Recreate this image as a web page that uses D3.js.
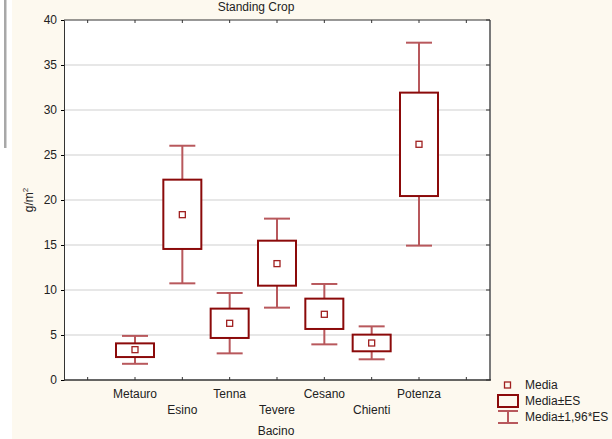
<!DOCTYPE html>
<html>
<head>
<meta charset="utf-8">
<script src="https://cdn.jsdelivr.net/npm/d3@7"></script>
<style>
  body { margin: 0; background: #fff; }
  svg { display: block; font-family: "Liberation Sans", Arial, sans-serif; }
</style>
</head>
<body>
<svg id="chart" width="612" height="439"></svg>
<script>
var categories = ["Metauro", "Esino", "Tenna", "Tevere", "Cesano", "Chienti", "Potenza"]
var means  = [3.37, 18.37, 6.30, 12.93, 7.30, 4.11, 26.19]
var seLow  = [2.55, 14.56, 4.67, 10.48, 5.67, 3.19, 20.44]
var seHigh = [4.07, 22.26, 7.93, 15.48, 9.04, 5.04, 31.93]
var ciLow  = [1.80, 10.74, 2.96, 8.04, 3.96, 2.30, 14.93]
var ciHigh = [4.90, 26.03, 9.67, 17.93, 10.67, 5.96, 37.48]
var yTicks = [0, 5, 10, 15, 20, 25, 30, 35, 40]
var legendLabels = ["Media", "Media±ES", "Media±1,96*ES"]

var margin = { top: 20, left: 64, right: 122, bottom: 59 }
var width = 612 - margin.left - margin.right
var height = 439 - margin.top - margin.bottom

var boxColor = "#8b0a0a", whiskColor = "#b8585c", gridColor = "#cfcfcf"
var fs = "12px"

var svg = d3.select("#chart")

// cream background, white strip on the left with the window edge
svg.append("rect").attr("x", 12).attr("y", 0).attr("width", 600).attr("height", 439).attr("fill", "#fdf9ef")
svg.append("rect").attr("x", 4).attr("y", 0).attr("width", 2.5).attr("height", 148).attr("fill", "#a8a8a8")

var g = svg.append("g").attr("transform", "translate(" + margin.left + "," + margin.top + ")")

g.append("rect").attr("width", width).attr("height", height).attr("fill", "#fff")

var x = d3.scalePoint().domain(categories).range([0, width]).padding(1.5)
var y = d3.scaleLinear().domain([0, 40]).range([height, 0])
var step = x.step()
var slotX = [x(categories[0]) - step].concat(categories.map(c => x(c)), [x(categories[categories.length - 1]) + step])

// grid
g.selectAll(".grid").data(yTicks.slice(1, -1)).join("line")
    .attr("x1", 0).attr("x2", width)
    .attr("y1", d => y(d)).attr("y2", d => y(d))
    .attr("stroke", gridColor).attr("stroke-width", 1)

// frame
g.append("line").attr("x1", width).attr("x2", width).attr("y1", 0).attr("y2", height)
    .attr("stroke", "#7a7a7a").attr("stroke-width", 2)

var yAxis = g.append("g").call(d3.axisLeft(y).tickValues(yTicks).tickSize(3).tickPadding(4))
yAxis.select(".domain").attr("stroke", "#333")
yAxis.selectAll("text").style("font-size", fs).attr("fill", "#222")

g.append("line").attr("x1", 0).attr("x2", width).attr("y1", 0).attr("y2", 0).attr("stroke", "#333")
g.append("line").attr("x1", 0).attr("x2", width + 1).attr("y1", height).attr("y2", height).attr("stroke", "#333").attr("stroke-width", 1.5)

// inner ticks
g.selectAll(".tt").data(slotX).join("line")
    .attr("x1", d => d).attr("x2", d => d).attr("y1", 0).attr("y2", 3).attr("stroke", "#333")
g.selectAll(".bt").data(slotX).join("line")
    .attr("x1", d => d).attr("x2", d => d).attr("y1", height).attr("y2", height - 3).attr("stroke", "#333")
g.selectAll(".rt").data(yTicks).join("line")
    .attr("x1", width).attr("x2", width - 4).attr("y1", d => y(d)).attr("y2", d => y(d)).attr("stroke", "#333")

// x labels, staggered
g.selectAll(".xl").data(categories).join("text")
    .attr("x", d => x(d))
    .attr("y", (d, i) => height + (i % 2 ? 34 : 18))
    .attr("text-anchor", "middle").style("font-size", fs).attr("fill", "#222")
    .text(d => d)

var boxW = 38, capW = 26

var groups = g.selectAll(".box").data(categories).join("g")
    .attr("transform", d => "translate(" + x(d) + ",0)")

groups.append("line")
    .attr("y1", (d, i) => y(ciHigh[i])).attr("y2", (d, i) => y(seHigh[i]))
    .attr("stroke", whiskColor).attr("stroke-width", 2)
groups.append("line")
    .attr("y1", (d, i) => y(seLow[i])).attr("y2", (d, i) => y(ciLow[i]))
    .attr("stroke", whiskColor).attr("stroke-width", 2)
groups.append("line")
    .attr("x1", -capW / 2).attr("x2", capW / 2)
    .attr("y1", (d, i) => y(ciHigh[i])).attr("y2", (d, i) => y(ciHigh[i]))
    .attr("stroke", whiskColor).attr("stroke-width", 2)
groups.append("line")
    .attr("x1", -capW / 2).attr("x2", capW / 2)
    .attr("y1", (d, i) => y(ciLow[i])).attr("y2", (d, i) => y(ciLow[i]))
    .attr("stroke", whiskColor).attr("stroke-width", 2)

groups.append("rect")
    .attr("x", -boxW / 2).attr("width", boxW)
    .attr("y", (d, i) => y(seHigh[i]))
    .attr("height", (d, i) => y(seLow[i]) - y(seHigh[i]))
    .attr("fill", "#fff").attr("stroke", boxColor).attr("stroke-width", 2)

groups.append("rect")
    .attr("x", -3).attr("width", 6).attr("height", 6)
    .attr("y", (d, i) => y(means[i]) - 3)
    .attr("fill", "none").attr("stroke", "#a02020").attr("stroke-width", 1.3)

// titles
svg.append("text").attr("x", 256).attr("y", 11).attr("text-anchor", "middle")
    .style("font-size", fs).attr("fill", "#222").text("Standing Crop")
svg.append("text").attr("x", 276).attr("y", 435).attr("text-anchor", "middle")
    .style("font-size", fs).attr("fill", "#222").text("Bacino")

var yl = svg.append("text").attr("transform", "translate(33,200) rotate(-90)")
    .attr("text-anchor", "middle").style("font-size", fs).attr("fill", "#222")
yl.append("tspan").text("g/m")
yl.append("tspan").attr("dy", -5).style("font-size", "8px").text("2")

// legend
var lg = svg.append("g").attr("transform", "translate(498,378)")
lg.append("rect").attr("x", 6.5).attr("y", 4).attr("width", 6).attr("height", 6)
    .attr("fill", "none").attr("stroke", "#a02020").attr("stroke-width", 1.3)
lg.append("rect").attr("x", 0).attr("y", 17).attr("width", 20).attr("height", 12)
    .attr("fill", "none").attr("stroke", boxColor).attr("stroke-width", 2)
lg.append("line").attr("x1", 0).attr("x2", 20).attr("y1", 33).attr("y2", 33).attr("stroke", whiskColor).attr("stroke-width", 2)
lg.append("line").attr("x1", 0).attr("x2", 20).attr("y1", 45).attr("y2", 45).attr("stroke", whiskColor).attr("stroke-width", 2)
lg.append("line").attr("x1", 10).attr("x2", 10).attr("y1", 33).attr("y2", 45).attr("stroke", whiskColor).attr("stroke-width", 2)
lg.selectAll(".lt").data(legendLabels).join("text")
    .attr("x", 27).attr("y", (d, i) => 11 + i * 16)
    .style("font-size", fs).attr("fill", "#222")
    .text(d => d)
</script>
</body>
</html>
